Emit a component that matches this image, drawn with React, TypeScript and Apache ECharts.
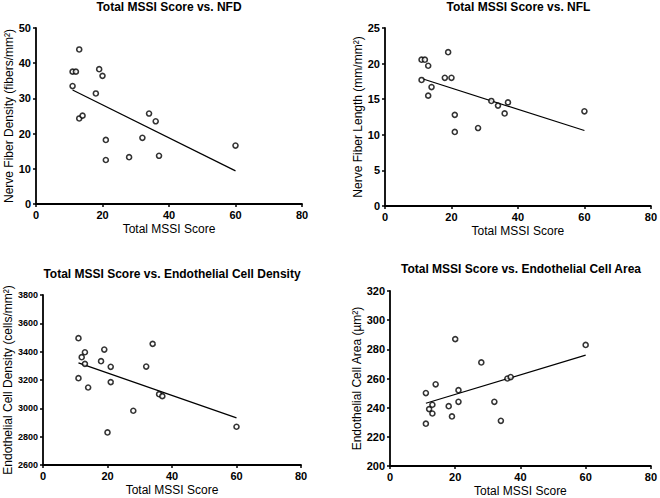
import React, { useEffect, useRef } from "react";
import * as echarts from "echarts";

const xTicks = [0, 20, 40, 60, 80];

const nfdX = [11, 12, 13, 11, 19, 20, 18, 13, 14, 21, 21, 28, 32, 34, 36, 37, 60];
const nfdY = [37.6, 37.6, 43.9, 33.5, 38.3, 36.4, 31.4, 24.3, 25.1, 18.2, 12.5, 13.3, 18.8, 25.7, 23.5, 13.7, 16.6];
const nfdFit = [[11, 32.4], [60, 9.4]];

const nflX = [11, 12, 13, 11, 19, 18, 20, 14, 13, 21, 21, 28, 32, 34, 36, 37, 60];
const nflY = [20.55, 20.55, 19.7, 17.7, 21.6, 18.0, 18.0, 16.7, 15.5, 12.8, 10.4, 10.95, 14.75, 14.1, 13.0, 14.55, 13.3];
const nflFit = [[11, 17.9], [60, 10.6]];

const ecdX = [11, 11, 12, 13, 13, 14, 18, 19, 21, 21, 20, 28, 32, 34, 36, 37, 60];
const ecdY = [3495, 3213, 3361, 3396, 3314, 3147, 3333, 3415, 3293, 3185, 2830, 2983, 3295, 3455, 3100, 3086, 2870];
const ecdFit = [[11, 3321], [60, 2933]];

const ecaX = [11, 11, 12, 13, 13, 14, 18, 19, 20, 21, 21, 28, 32, 34, 36, 37, 60];
const ecaY = [250, 229, 239, 242, 236, 256, 241, 234, 287, 252, 244, 271, 244, 231, 260, 261, 283];
const ecaFit = [[11, 243], [60, 276]];

const titles = [
  "Total MSSI Score vs. NFD",
  "Total MSSI Score vs. NFL",
  "Total MSSI Score vs. Endothelial Cell Density",
  "Total MSSI Score vs. Endothelial Cell Area",
];
const xName = "Total MSSI Score";
const yNames = [
  "Nerve Fiber Density (fibers/mm²)",
  "Nerve Fiber Length (mm/mm²)",
  "Endothelial Cell Density (cells/mm²)",
  "Endothelial Cell Area (µm²)",
];
const yRanges = [
  [0, 50, 10],
  [0, 25, 5],
  [2600, 3800, 200],
  [200, 320, 20],
];

const panels = [
  { x: nfdX, y: nfdY, fit: nfdFit },
  { x: nflX, y: nflY, fit: nflFit },
  { x: ecdX, y: ecdY, fit: ecdFit },
  { x: ecaX, y: ecaY, fit: ecaFit },
];

const grids = [
  { left: 36, top: 28, width: 266, height: 176 },
  { left: 385, top: 28, width: 267, height: 178 },
  { left: 43, top: 295, width: 258, height: 170 },
  { left: 390, top: 291, width: 262, height: 175 },
];
const titleTops = [1, 1, 268, 263];
const yNameGaps = [20, 21, 27, 23];
const yLabelSizes = [11, 11, 9, 11];
const FONT = "Liberation Sans, Arial, sans-serif";

export default function App() {
  const ref = useRef<HTMLDivElement>(null);
  useEffect(() => {
    if (!ref.current) return;
    const chart = echarts.init(ref.current, undefined, { renderer: "svg" });
    const axisCommon = {
      axisLine: { show: true, lineStyle: { color: "#000", width: 1.8 } },
      axisTick: { show: true, inside: false, length: 3, lineStyle: { color: "#000", width: 1.5 } },
      splitLine: { show: false },
      nameTextStyle: { color: "#000", fontSize: 12, fontFamily: FONT },
      nameLocation: "middle",
    };
    const labelStyle = (size: number) => ({
      color: "#000",
      fontWeight: "bold",
      fontSize: size,
      fontFamily: FONT,
      margin: 5,
      formatter: (v: number) => String(v),
    });
    const option: any = {
      animation: false,
      backgroundColor: "#fff",
      title: titles.map((t, i) => ({
        text: t,
        left: grids[i].left + grids[i].width / 2,
        top: titleTops[i],
        textAlign: "center",
        padding: 0,
        textStyle: { color: "#000", fontSize: 12, fontWeight: "bold", fontFamily: FONT },
      })),
      grid: grids,
      xAxis: grids.map((_, i) => ({
        ...axisCommon,
        type: "value",
        gridIndex: i,
        min: xTicks[0],
        max: xTicks[xTicks.length - 1],
        interval: xTicks[1] - xTicks[0],
        axisLabel: labelStyle(11),
        name: xName,
        nameGap: 19,
      })),
      yAxis: grids.map((_, i) => ({
        ...axisCommon,
        type: "value",
        gridIndex: i,
        min: yRanges[i][0],
        max: yRanges[i][1],
        interval: yRanges[i][2],
        axisLabel: labelStyle(yLabelSizes[i]),
        name: yNames[i],
        nameGap: yNameGaps[i],
      })),
      series: [
        ...panels.map((p, i) => ({
          type: "scatter",
          xAxisIndex: i,
          yAxisIndex: i,
          data: p.x.map((v, j) => [v, p.y[j]]),
          symbol: "circle",
          symbolSize: 5,
          itemStyle: { color: "#fff", borderColor: "#000", borderWidth: 1.6 },
          z: 3,
        })),
        ...panels.map((p, i) => ({
          type: "line",
          xAxisIndex: i,
          yAxisIndex: i,
          data: p.fit,
          showSymbol: false,
          symbol: "none",
          lineStyle: { color: "#000", width: 1.2 },
          z: 2,
        })),
      ],
    };
    chart.setOption(option);
    return () => chart.dispose();
  }, []);
  return (
    <div
      ref={ref}
      style={{ position: "fixed", left: 0, top: 0, width: 660, height: 498, background: "#fff" }}
    />
  );
}
